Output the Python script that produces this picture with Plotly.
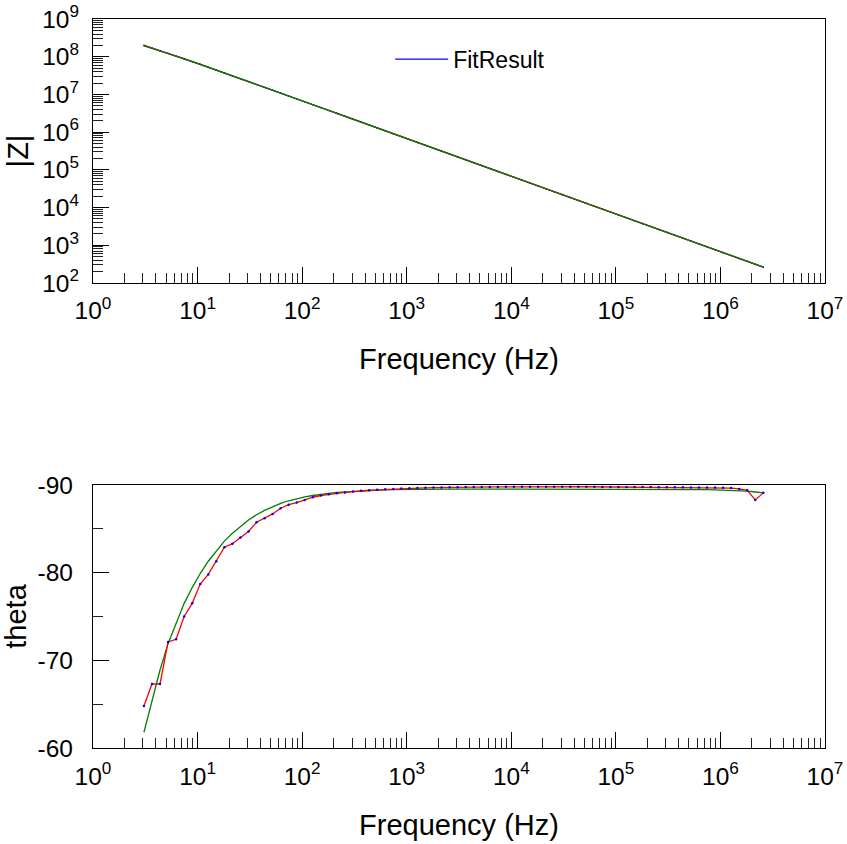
import plotly.graph_objects as go

# ---------------- data ----------------
freq = [3.069, 3.664, 4.374, 5.222, 6.233, 7.441, 8.883, 10.60, 12.66, 15.11, 18.04, 21.54, 25.71,
        30.69, 36.64, 43.74, 52.22, 62.33, 74.41, 88.83, 106.0, 126.6, 151.1, 180.4, 215.4, 257.1,
        306.9, 366.4, 437.4, 522.2, 623.3, 744.1, 888.3, 1060, 1266, 1511, 1804, 2154, 2571,
        3069, 3664, 4374, 5222, 6233, 7441, 8883, 10600, 12660, 15110, 18040, 21540, 25710,
        30690, 36640, 43740, 52220, 62330, 74410, 88830, 106000, 126600, 151100, 180400, 215400, 257100,
        306900, 366400, 437400, 522200, 623300, 744100, 888300, 1060000, 1266000, 1511000, 1804000,
        2154000, 2571000]

z_meas = [1.993e8, 1.702e8, 1.425e8, 1.232e8, 1.034e8, 8.775e7, 7.400e7, 6.253e7, 5.256e7, 4.423e7, 3.718e7, 3.117e7, 2.615e7,
          2.195e7, 1.840e7, 1.542e7, 1.292e7, 1.083e7, 9.077e6, 7.605e6, 6.374e6, 5.338e6, 4.473e6, 3.746e6, 3.138e6, 2.629e6,
          2.203e6, 1.845e6, 1.545e6, 1.2945e6, 1.0846e6, 9.085e5, 7.610e5, 6.377e5, 5.340e5, 4.474e5, 3.747e5, 3.138e5, 2.629e5,
          2.203e5, 1.845e5, 1.545e5, 1.294e5, 1.085e5, 9.08e4, 7.61e4, 6.38e4, 5.34e4, 4.47e4, 3.75e4, 3.14e4, 2.63e4,
          2.20e4, 1.845e4, 1.545e4, 1.294e4, 1.085e4, 9085, 7610, 6377, 5340, 4474, 3747, 3138, 2629,
          2203, 1845, 1545, 1294, 1085, 908.5, 761, 637.7, 534, 447.4, 374.7, 313.8, 263]

z_fit = [1.942e8, 1.679e8, 1.441e8, 1.230e8, 1.044e8, 8.834e7, 7.452e7, 6.278e7, 5.279e7, 4.436e7, 3.724e7, 3.124e7, 2.620e7,
         2.198e7, 1.842e7, 1.543e7, 1.293e7, 1.0837e7, 9.079e6, 7.606e6, 6.375e6, 5.339e6, 4.473e6, 3.746e6, 3.138e6, 2.629e6,
         2.203e6, 1.845e6, 1.545e6, 1.2945e6, 1.0846e6, 9.085e5, 7.610e5, 6.377e5, 5.340e5, 4.474e5, 3.747e5, 3.138e5, 2.629e5,
         2.203e5, 1.845e5, 1.545e5, 1.294e5, 1.085e5, 9.08e4, 7.61e4, 6.38e4, 5.34e4, 4.47e4, 3.75e4, 3.14e4, 2.63e4,
         2.20e4, 1.845e4, 1.545e4, 1.294e4, 1.085e4, 9085, 7610, 6377, 5340, 4474, 3747, 3138, 2629,
         2203, 1845, 1545, 1294, 1085, 908.5, 761, 637.7, 534, 447.4, 374.7, 313.8, 263]

theta_meas = [-64.8, -67.3, -67.3, -72.1, -72.4, -75.0, -76.5, -78.7, -79.8, -81.3, -82.9, -83.3, -84.0,
              -84.7, -85.75, -86.2, -86.7, -87.35, -87.75, -88.0, -88.3, -88.6, -88.8, -88.95, -89.05, -89.15,
              -89.25, -89.35, -89.4, -89.45, -89.5, -89.55, -89.6, -89.62, -89.65, -89.68, -89.7, -89.72, -89.74,
              -89.75, -89.76, -89.76, -89.77, -89.78, -89.78, -89.79, -89.8, -89.8, -89.8, -89.79, -89.8, -89.8,
              -89.8, -89.79, -89.8, -89.8, -89.79, -89.78, -89.78, -89.78, -89.77, -89.77, -89.76, -89.76, -89.75,
              -89.75, -89.74, -89.73, -89.72, -89.72, -89.7, -89.7, -89.68, -89.65, -89.55, -89.4, -88.3, -89.1]

theta_fit = [-61.8, -65.5, -68.9, -71.9, -74.3, -76.5, -78.3, -79.9, -81.3, -82.5, -83.6, -84.5, -85.3,
             -86.0, -86.6, -87.1, -87.5, -87.9, -88.2, -88.45, -88.65, -88.8, -88.95, -89.05, -89.15, -89.2,
             -89.3, -89.35, -89.38, -89.42, -89.44, -89.46, -89.48, -89.5, -89.5, -89.51, -89.52, -89.52, -89.53,
             -89.53, -89.53, -89.54, -89.54, -89.54, -89.54, -89.54, -89.54, -89.54, -89.54, -89.54, -89.54, -89.54,
             -89.54, -89.54, -89.54, -89.54, -89.53, -89.53, -89.53, -89.53, -89.52, -89.52, -89.52, -89.51, -89.51,
             -89.5, -89.5, -89.49, -89.48, -89.47, -89.46, -89.45, -89.43, -89.41, -89.38, -89.3, -89.2, -89.1]

x_decades = [1, 10, 100, 1000, 10000, 100000, 1000000, 10000000]
x_labels = ["10<sup>0</sup>", "10<sup>1</sup>", "10<sup>2</sup>", "10<sup>3</sup>",
            "10<sup>4</sup>", "10<sup>5</sup>", "10<sup>6</sup>", "10<sup>7</sup>"]
z_decades = [1e2, 1e3, 1e4, 1e5, 1e6, 1e7, 1e8, 1e9]
z_labels = ["10<sup>2</sup>", "10<sup>3</sup>", "10<sup>4</sup>", "10<sup>5</sup>",
            "10<sup>6</sup>", "10<sup>7</sup>", "10<sup>8</sup>", "10<sup>9</sup>"]
theta_ticks = [-90, -80, -70, -60]
theta_labels = ["-90", "-80", "-70", "-60"]
theta_minor = [-85, -75, -65]

x_minor = [m * 10 ** d for d in range(0, 7) for m in range(2, 10)]
z_minor = [m * 10 ** d for d in range(2, 9) for m in range(2, 10)]

FONT = "Liberation Sans, Arial, sans-serif"
RED = "#ff0000"
GREEN = "#008000"
BLUE = "#0000ff"

fig = go.Figure()

# top: |Z|
fig.add_trace(go.Scatter(x=freq, y=z_meas, mode="lines", name="FitResult",
                         line=dict(color=BLUE, width=1.2), xaxis="x", yaxis="y", showlegend=True))
fig.add_trace(go.Scatter(x=freq, y=z_meas, mode="lines", line=dict(color=RED, width=1.3),
                         xaxis="x", yaxis="y", showlegend=False))
fig.add_trace(go.Scatter(x=freq, y=z_meas, mode="markers", marker=dict(color=BLUE, size=1.6),
                         xaxis="x", yaxis="y", showlegend=False))
fig.add_trace(go.Scatter(x=freq, y=z_fit, mode="lines", line=dict(color=GREEN, width=1.3),
                         xaxis="x", yaxis="y", showlegend=False))

# bottom: theta
fig.add_trace(go.Scatter(x=freq, y=theta_fit, mode="lines", line=dict(color=GREEN, width=1.3),
                         xaxis="x2", yaxis="y2", showlegend=False))
fig.add_trace(go.Scatter(x=freq, y=theta_meas, mode="lines", line=dict(color=RED, width=1.3),
                         xaxis="x2", yaxis="y2", showlegend=False))
fig.add_trace(go.Scatter(x=freq, y=theta_meas, mode="markers", marker=dict(color=BLUE, size=2.5),
                         xaxis="x2", yaxis="y2", showlegend=False))

tickfont = dict(family=FONT, size=24.5, color="black")
titlefont = dict(family=FONT, size=29, color="black")

common_x = dict(type="log", range=[0, 7], tickmode="array", tickvals=x_decades, ticktext=x_labels,
                ticks="inside", ticklen=16, tickwidth=1, tickcolor="black",
                minor=dict(tickmode="array", tickvals=x_minor, ticks="inside", ticklen=10,
                           tickwidth=1, tickcolor="#222"),
                showline=True, linecolor="black", linewidth=1.2, mirror=True, automargin=False,
                showgrid=False, zeroline=False, tickfont=tickfont, ticklabelstandoff=6)

fig.update_layout(
    width=847, height=844,
    margin=dict(l=93, r=22, t=19, b=96, autoexpand=False),
    paper_bgcolor="white", plot_bgcolor="white",
    font=dict(family=FONT, color="black"),
    xaxis=dict(**common_x, domain=[0, 1], anchor="y",
               title=dict(text="Frequency (Hz)", font=titlefont, standoff=25)),
    xaxis2=dict(**common_x, domain=[0, 1], anchor="y2",
                title=dict(text="Frequency (Hz)", font=titlefont, standoff=26)),
    yaxis=dict(type="log", range=[2, 9], domain=[0.6379, 1], anchor="x", automargin=False,
               tickmode="array", tickvals=z_decades, ticktext=z_labels,
               ticks="inside", ticklen=16, tickwidth=1, tickcolor="black",
               minor=dict(tickmode="array", tickvals=z_minor, ticks="inside", ticklen=10,
                          tickwidth=1, tickcolor="#222"),
               showline=True, linecolor="black", linewidth=1.2, mirror=True,
               showgrid=False, zeroline=False, tickfont=tickfont, ticklabelstandoff=8,
               title=dict(text="|Z|", font=titlefont, standoff=5)),
    yaxis2=dict(range=[-60, -90], domain=[0, 0.3608], anchor="x2", automargin=False,
                tickmode="array", tickvals=theta_ticks, ticktext=theta_labels,
                ticks="inside", ticklen=16, tickwidth=1, tickcolor="black",
                minor=dict(tickmode="array", tickvals=theta_minor, ticks="inside", ticklen=10,
                           tickwidth=1, tickcolor="#222"),
                showline=True, linecolor="black", linewidth=1.2, mirror=True,
                showgrid=False, zeroline=False, tickfont=tickfont, ticklabelstandoff=14,
                title=dict(text="theta", font=titlefont, standoff=8)),
    legend=dict(x=0.406, y=0.945, xanchor="left", yanchor="middle",
                bgcolor="rgba(0,0,0,0)", font=dict(family=FONT, size=23, color="black"),
                itemwidth=53),
    showlegend=True,
)

fig.write_html("out.html")
